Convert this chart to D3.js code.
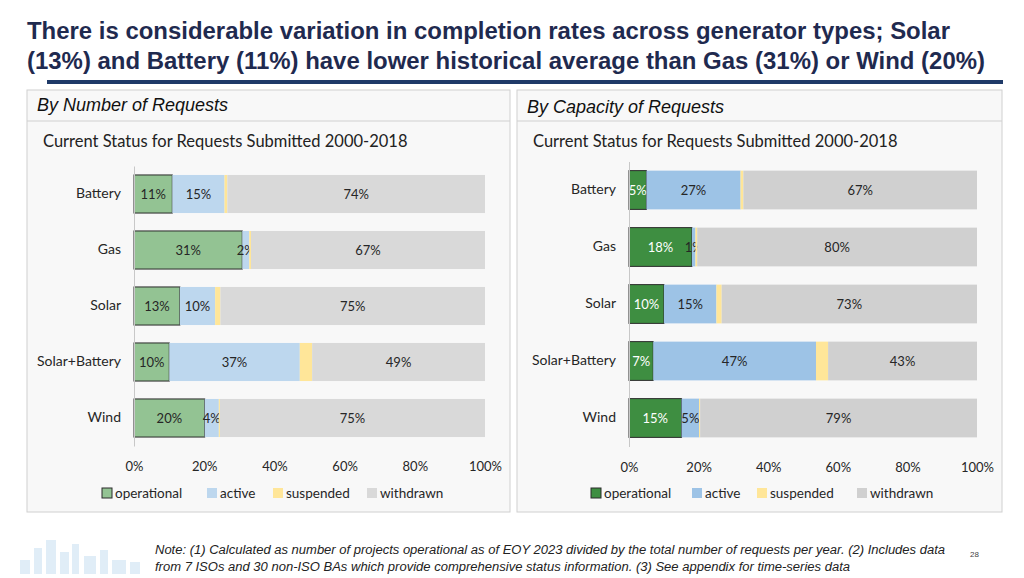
<!DOCTYPE html>
<html>
<head>
<meta charset="utf-8">
<script src="https://cdn.jsdelivr.net/npm/d3@7"></script>
<style>
  body { margin: 0; background: #fff; }
  svg { display: block; }
</style>
</head>
<body>
<svg id="chart" width="1024" height="578"></svg>
<script>
// generator types, top to bottom
const categories = ["Battery", "Gas", "Solar", "Solar+Battery", "Wind"];
const statuses = ["operational", "active", "suspended", "withdrawn"];

// shares in percent (suspended has no label)
const countOperational = [11, 31, 13, 10, 20];
const countActive      = [15, 2, 10, 37, 4];
const countSuspended   = [0.8, 0.5, 1.5, 3.5, 0.3];
const countWithdrawn   = [74, 67, 75, 49, 75];

const capOperational = [5, 18, 10, 7, 15];
const capActive      = [27, 1, 15, 47, 5];
const capSuspended   = [0.8, 0.5, 1.5, 3.5, 0.3];
const capWithdrawn   = [67, 80, 73, 43, 79];

const xTicks = [0, 0.2, 0.4, 0.6, 0.8, 1];

const svg = d3.select("#chart");
const labelFont = "Lato, 'Open Sans', sans-serif";

// ---- page title
const title = svg.append("g")
  .attr("font-family", "'Liberation Sans', Arial, sans-serif")
  .attr("font-weight", "bold")
  .attr("font-size", "23px")
  .attr("fill", "#1f2a4f");
title.append("text").attr("x", 27).attr("y", 39)
  .attr("textLength", 923).attr("lengthAdjust", "spacingAndGlyphs")
  .text("There is considerable variation in completion rates across generator types; Solar");
title.append("text").attr("x", 27).attr("y", 69)
  .attr("textLength", 958).attr("lengthAdjust", "spacingAndGlyphs")
  .text("(13%) and Battery (11%) have lower historical average than Gas (31%) or Wind (20%)");

svg.append("rect")
  .attr("x", 47).attr("y", 80).attr("width", 956).attr("height", 4)
  .attr("fill", "#1f3a68");

function rows(op, act, sus, wd) {
  return categories.map((c, i) => ({
    category: c, operational: op[i], active: act[i], suspended: sus[i], withdrawn: wd[i]
  }));
}

function panel(cfg) {
  const g = svg.append("g");

  g.append("rect")
    .attr("x", cfg.left).attr("y", 90)
    .attr("width", cfg.width).attr("height", 422)
    .attr("fill", "#f8f8f8").attr("stroke", "#d0d0d0");
  g.append("line")
    .attr("x1", cfg.left).attr("x2", cfg.left + cfg.width)
    .attr("y1", 121).attr("y2", 121)
    .attr("stroke", "#d0d0d0");
  g.append("text")
    .attr("x", cfg.left + 10).attr("y", cfg.headerY)
    .attr("font-family", "'Liberation Sans', Arial, sans-serif")
    .attr("font-style", "italic")
    .attr("font-size", "18px")
    .attr("fill", "#111")
    .text(cfg.header);
  g.append("text")
    .attr("x", cfg.left + 16).attr("y", 147)
    .attr("font-family", labelFont)
    .attr("font-size", "16.5px")
    .attr("fill", "#222")
    .text("Current Status for Requests Submitted 2000-2018");

  const x = d3.scaleLinear().domain([0, 1]).range(cfg.xRange);
  const y = d3.scaleBand().domain(categories).range(cfg.yRange)
    .paddingInner(0.32).paddingOuter(0.16);

  const stacked = d3.stack().keys(statuses).offset(d3.stackOffsetExpand)(cfg.data);

  const layers = g.selectAll("g.layer").data(stacked).enter()
    .append("g").attr("class", "layer")
    .attr("fill", d => cfg.colors[d.key]);

  layers.selectAll("rect").data(d => d).enter()
    .append("rect")
    .attr("x", d => x(d[0]))
    .attr("y", d => y(d.data.category))
    .attr("width", d => x(d[1]) - x(d[0]))
    .attr("height", y.bandwidth());

  layers.filter(d => d.key === "operational").selectAll("rect")
    .attr("stroke", "#2b2b2b").attr("stroke-width", 1);

  // value labels, none for suspended
  layers.filter(d => d.key !== "suspended").selectAll("text").data(d => d).enter()
    .append("text")
    .attr("x", d => (x(d[0]) + x(d[1])) / 2)
    .attr("y", d => y(d.data.category) + y.bandwidth() / 2)
    .attr("dy", "0.35em")
    .attr("text-anchor", "middle")
    .attr("font-family", labelFont)
    .attr("font-size", "13px")
    .attr("fill", function () {
      const key = d3.select(this.parentNode).datum().key;
      return key === "operational" ? cfg.opText : "#262626";
    })
    .text(function (d) {
      const key = d3.select(this.parentNode).datum().key;
      return d.data[key] + "%";
    });

  // category axis
  const yAxis = g.append("g")
    .attr("transform", `translate(${cfg.xRange[0]},0)`)
    .call(d3.axisLeft(y).tickSize(0).tickPadding(13));
  yAxis.select(".domain").attr("stroke", "#c8c8c8");
  yAxis.selectAll("text")
    .attr("font-family", labelFont).attr("font-size", "14px").attr("fill", "#262626");

  // percent axis
  const xAxis = g.append("g")
    .attr("transform", `translate(0,${cfg.axisY})`)
    .call(d3.axisBottom(x).tickValues(xTicks).tickFormat(d3.format(".0%")).tickSize(0).tickPadding(0));
  xAxis.select(".domain").remove();
  xAxis.selectAll("text")
    .attr("font-family", labelFont).attr("font-size", "13px").attr("fill", "#262626");

  // legend
  const leg = g.selectAll("g.leg").data(statuses).enter()
    .append("g").attr("class", "leg")
    .attr("transform", (d, i) => `translate(${cfg.legendX[i]},493)`);
  leg.append("rect")
    .attr("x", 0).attr("y", -5).attr("width", 10).attr("height", 10)
    .attr("fill", d => cfg.colors[d])
    .attr("stroke", d => d === "operational" ? "#2b2b2b" : "none");
  leg.append("text")
    .attr("x", 13).attr("dy", "0.35em")
    .attr("font-family", labelFont).attr("font-size", "13.5px").attr("fill", "#262626")
    .text(d => d);
}

panel({
  left: 27, width: 483, headerY: 111,
  header: "By Number of Requests",
  xRange: [134, 485], yRange: [166, 446], axisY: 462,
  data: rows(countOperational, countActive, countSuspended, countWithdrawn),
  colors: { operational: "#93c393", active: "#bdd7ee", suspended: "#ffe699", withdrawn: "#d9d9d9" },
  opText: "#262626",
  legendX: [102, 207, 273, 367]
});

panel({
  left: 517, width: 485, headerY: 113,
  header: "By Capacity of Requests",
  xRange: [629, 977], yRange: [161.5, 446.5], axisY: 463,
  data: rows(capOperational, capActive, capSuspended, capWithdrawn),
  colors: { operational: "#3e8e41", active: "#9dc3e6", suspended: "#ffe699", withdrawn: "#d0d0d0" },
  opText: "#ffffff",
  legendX: [591, 692, 757, 857]
});

// ---- footer
const deco = svg.append("g").attr("fill", "#9cc7e6").attr("opacity", 0.3);
[[20, 560, 10, 14], [34, 548, 8, 26], [46, 540, 10, 34], [60, 552, 9, 22],
 [72, 544, 7, 30], [84, 556, 12, 18], [100, 550, 8, 24], [112, 560, 14, 14], [130, 562, 10, 12]]
  .forEach(r => deco.append("rect").attr("x", r[0]).attr("y", r[1]).attr("width", r[2]).attr("height", r[3]));

const note = svg.append("g")
  .attr("font-family", "'Liberation Sans', Arial, sans-serif")
  .attr("font-style", "italic")
  .attr("font-size", "12px")
  .attr("fill", "#222");
note.append("text").attr("x", 155).attr("y", 554)
  .attr("textLength", 790).attr("lengthAdjust", "spacingAndGlyphs")
  .text("Note: (1) Calculated as number of projects operational as of EOY 2023 divided by the total number of requests per year. (2) Includes data");
note.append("text").attr("x", 155).attr("y", 571)
  .attr("textLength", 695).attr("lengthAdjust", "spacingAndGlyphs")
  .text("from 7 ISOs and 30 non-ISO BAs which provide comprehensive status information. (3) See appendix for time-series data");
svg.append("text").attr("x", 970).attr("y", 557)
  .attr("font-family", "'Liberation Sans', Arial, sans-serif")
  .attr("font-size", "8px").attr("fill", "#444")
  .text("28");
</script>
</body>
</html>
